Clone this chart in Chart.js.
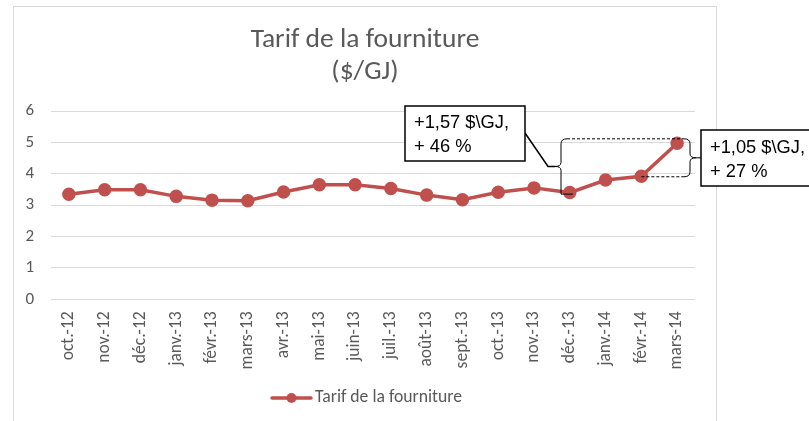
<!DOCTYPE html>
<html><head><meta charset="utf-8">
<script src="https://cdn.jsdelivr.net/npm/chart.js@4.4.1/dist/chart.umd.min.js"></script>
<style>html,body{margin:0;padding:0;background:#fff}#wrap{width:809px;height:421px;position:relative}</style>
</head><body><div id="wrap"><canvas id="c"></canvas></div>
<script>
const categories = ['oct.-12','nov.-12','déc.-12','janv.-13','févr.-13','mars-13','avr.-13','mai-13','juin-13','juil.-13','août-13','sept.-13','oct.-13','nov.-13','déc.-13','janv.-14','févr.-14','mars-14'];
const tarif = [3.35,3.49,3.49,3.28,3.16,3.14,3.42,3.65,3.65,3.53,3.32,3.17,3.41,3.55,3.40,3.80,3.92,4.97];
const yTicks = [0,1,2,3,4,5,6];
const seriesName = 'Tarif de la fourniture';
const titleLines = ['Tarif de la fourniture','($/GJ)'];
const note1 = ['+1,57 $\\GJ,','+ 46 %'];
const note2 = ['+1,05 $\\GJ,','+ 27 %'];

const FONT = 'Carlito, Lato, "Open Sans", sans-serif';
const TXT = '#595959';
const RED = '#C0504D';

const deco = {
  id:'deco',
  beforeDraw(chart){
    const ctx = chart.ctx;
    ctx.save();
    ctx.fillStyle='#fff'; ctx.fillRect(0,0,chart.width,chart.height);
    ctx.strokeStyle='#d9d9d9'; ctx.lineWidth=1;
    ctx.strokeRect(13.5,6.5,703,440);
    ctx.restore();
  },
  afterDraw(chart){
    const ctx = chart.ctx;
    const xs = chart.scales.x, ys = chart.scales.y;
    ctx.save();
    // title
    ctx.fillStyle=TXT; ctx.font='27.5px '+FONT; ctx.textAlign='center'; ctx.textBaseline='middle';
    ctx.fillText(titleLines[0],365,40);
    ctx.fillText(titleLines[1],365,72);
    // legend
    const ly=398;
    ctx.strokeStyle=RED; ctx.lineWidth=3.5; ctx.lineCap='round';
    ctx.beginPath(); ctx.moveTo(272,ly); ctx.lineTo(311,ly); ctx.stroke();
    ctx.fillStyle=RED; ctx.beginPath(); ctx.arc(291.5,ly,5,0,Math.PI*2); ctx.fill();
    ctx.fillStyle=TXT; ctx.font='17.7px '+FONT; ctx.textAlign='left';
    ctx.fillText(seriesName,315,ly);
    // annotations
    const iDec=14, iFev=16, iMar=17;
    const xDec=xs.getPixelForValue(iDec), xFev=xs.getPixelForValue(iFev), xMar=xs.getPixelForValue(iMar);
    const yDec=ys.getPixelForValue(tarif[iDec]), yFev=ys.getPixelForValue(tarif[iFev]), yMar=ys.getPixelForValue(tarif[iMar]);
    const topY = yMar-4.5;
    ctx.strokeStyle='#000'; ctx.lineWidth=1; ctx.lineCap='butt';
    // brace 1 '{'
    const bx1=561, b1b=yDec+1.5, b1m=(topY+b1b)/2;
    ctx.beginPath();
    ctx.moveTo(bx1+6,topY); ctx.quadraticCurveTo(bx1,topY,bx1,topY+5);
    ctx.lineTo(bx1,b1m-4); ctx.quadraticCurveTo(bx1,b1m,bx1-6,b1m);
    ctx.quadraticCurveTo(bx1,b1m,bx1,b1m+4);
    ctx.lineTo(bx1,b1b); ctx.lineTo(xDec+3,b1b);
    ctx.stroke();
    // connector from box1
    ctx.lineWidth=1.5;
    ctx.beginPath(); ctx.moveTo(525,133); ctx.lineTo(548,b1m); ctx.lineTo(bx1-6,b1m); ctx.stroke();
    ctx.lineWidth=1;
    // brace 2 '}'
    const bx2=690, b2b=yFev+0.5, b2m=(topY+b2b)/2;
    ctx.beginPath();
    ctx.moveTo(bx2-6,topY); ctx.quadraticCurveTo(bx2,topY,bx2,topY+5);
    ctx.lineTo(bx2,b2m-4); ctx.quadraticCurveTo(bx2,b2m,bx2+6,b2m);
    ctx.quadraticCurveTo(bx2,b2m,bx2,b2m+4);
    ctx.lineTo(bx2,b2b-5); ctx.quadraticCurveTo(bx2,b2b,bx2-6,b2b);
    ctx.stroke();
    ctx.beginPath(); ctx.moveTo(bx2+6,b2m); ctx.lineTo(701,b2m); ctx.stroke();
    // dashed lines
    ctx.setLineDash([3,2]);
    ctx.beginPath(); ctx.moveTo(bx1+6,topY); ctx.lineTo(bx2-6,topY); ctx.stroke();
    ctx.beginPath(); ctx.moveTo(xFev,b2b); ctx.lineTo(bx2-6,b2b); ctx.stroke();
    ctx.setLineDash([]);
    // boxes
    ctx.lineWidth=1.5;
    ctx.fillStyle='#fff';
    ctx.fillRect(405,106,120,55); ctx.strokeRect(405,106,120,55);
    ctx.fillRect(701,130,120,56); ctx.strokeRect(701,130,120,56);
    ctx.fillStyle='#000'; ctx.font='18.3px "Liberation Sans", Arial, sans-serif'; ctx.textAlign='left'; ctx.textBaseline='middle';
    ctx.fillText(note1[0],414,123); ctx.fillText(note1[1],414,147);
    ctx.fillText(note2[0],710,148); ctx.fillText(note2[1],710,172);
    ctx.restore();
  }
};

new Chart(document.getElementById('c'),{
  type:'line',
  data:{labels:categories,datasets:[{label:seriesName,data:tarif,borderColor:RED,backgroundColor:RED,borderWidth:3.5,pointRadius:5,pointHoverRadius:5,pointBackgroundColor:RED,pointBorderColor:RED,tension:0}]},
  options:{
    responsive:true,maintainAspectRatio:false,animation:false,
    layout:{padding:{left:0,right:114,top:111,bottom:41.7}},
    plugins:{legend:{display:false},title:{display:false},tooltip:{enabled:false}},
    scales:{
      x:{offset:true,grid:{display:false},border:{display:false},
        ticks:{color:TXT,font:{family:FONT,size:17.5},minRotation:90,maxRotation:90,autoSkip:false,padding:4},
        afterFit(s){s.height=80;}},
      y:{min:0,max:6,grid:{color:'#d9d9d9',drawTicks:false},border:{display:false},
        afterBuildTicks(s){s.ticks=yTicks.map(v=>({value:v}));},
        ticks:{color:TXT,font:{family:FONT,size:17},padding:17,stepSize:1},
        afterFit(s){s.width=51;}}
    }
  },
  plugins:[deco]
});
</script></body></html>
